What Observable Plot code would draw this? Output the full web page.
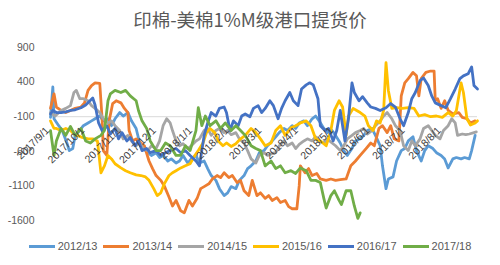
<!DOCTYPE html>
<html><head><meta charset="utf-8">
<script src="https://cdn.jsdelivr.net/npm/d3@7"></script>
<script src="https://cdn.jsdelivr.net/npm/@observablehq/plot@0.6"></script>
<style>
body{margin:0;background:#fff;font-family:"Liberation Sans",Arial,sans-serif;}
#wrap{width:500px;height:265px;overflow:hidden;}
#title{height:36px;box-sizing:border-box;padding-top:7px;text-align:center;font-size:18.5px;line-height:24px;color:#595959;font-family:"Noto Sans CJK SC",sans-serif;}
#legend{display:flex;justify-content:center;align-items:center;height:20px;font-size:11px;color:#595959;}
.item{display:flex;align-items:center;margin:0 3px;}
.sw{width:26px;height:3px;margin-right:3px;}
</style></head>
<body><div id="wrap"><div id="title">印棉-美棉1%M级港口提货价</div><div id="chart"></div><div id="legend"></div></div>
<script>
const seasons = ["2012/13","2013/14","2014/15","2015/16","2016/17","2017/18"];
const colors = ["#5B9BD5","#ED7D31","#A5A5A5","#FFC000","#4472C4","#70AD47"];
const yTicks = [900,400,-100,-600,-1100,-1600];
const xTickLabels = ["2017/9/1","2017/10/1","2017/11/1","2017/12/1","2018/1/1","2018/2/1","2018/3/1","2018/4/1","2018/5/1","2018/6/1","2018/7/1","2018/8/1"];
const axisCross = -100;
// [days since 9/1, value]
const s1213 = [[0,-110],[2,330],[3,-130],[7,-230],[10,-300],[14,-480],[16,-590],[19,-560],[21,-370],[25,-300],[28,-230],[32,-190],[35,-160],[38,-130],[42,-90],[45,-160],[49,-130],[52,-230],[55,-130],[59,-40],[62,-90],[66,-40],[69,-160],[73,-270],[76,-480],[79,-560],[83,-620],[86,-660],[90,-620],[93,-690],[96,-660],[100,-740],[103,-710],[107,-770],[110,-740],[113,-660],[117,-770],[120,-710],[124,-660],[127,-770],[131,-740],[134,-850],[137,-950],[141,-1020],[144,-1140],[148,-1240],[151,-1200],[154,-1110],[158,-1140],[161,-1020],[165,-950],[168,-850],[171,-810],[175,-740],[178,-620],[182,-590],[185,-520],[189,-450],[192,-390],[195,-330],[199,-270],[202,-300],[206,-230],[209,-270],[212,-190],[216,-160],[219,-230],[223,-130],[226,-90],[229,-160],[233,-270],[236,-330],[240,-300],[243,-370],[247,-480],[250,-590],[253,-660],[257,-560],[260,-450],[264,-420],[267,-370],[270,-300],[274,-270],[277,-370],[281,-520],[283,-810],[286,-1140],[288,-1000],[292,-970],[295,-740],[299,-590],[302,-560],[305,-450],[309,-390],[312,-590],[316,-740],[319,-590],[322,-520],[326,-560],[329,-620],[333,-660],[336,-710],[339,-840],[343,-710],[346,-690],[350,-710],[353,-690],[357,-710],[359,-590],[362,-370]];
const s1314 = [[0,20],[3,230],[5,40],[9,-10],[13,-40],[17,-10],[21,20],[26,40],[29,100],[32,280],[35,350],[38,390],[42,380],[44,-130],[45,-590],[48,-660],[50,-160],[53,90],[56,130],[60,100],[63,20],[66,-40],[67,-300],[70,-450],[73,-420],[77,-480],[80,-520],[84,-740],[87,-850],[90,-950],[94,-1020],[97,-1100],[101,-1260],[104,-1390],[107,-1310],[111,-1460],[114,-1490],[118,-1310],[121,-1390],[125,-1280],[128,-1140],[131,-1110],[135,-1070],[138,-1000],[142,-950],[145,-980],[148,-910],[152,-980],[155,-950],[159,-1050],[162,-1020],[165,-1170],[169,-1240],[172,-1020],[176,-1240],[179,-1200],[183,-1280],[186,-1240],[189,-1310],[193,-1270],[196,-1340],[200,-1310],[203,-1400],[206,-1430],[210,-1430],[212,-1100],[213,-810],[217,-910],[220,-850],[223,-950],[227,-920],[230,-1000],[235,-1020],[239,-1000],[243,-1020],[247,-1010],[252,-1000],[256,-810],[260,-740],[264,-660],[269,-560],[273,-480],[276,-520],[280,-270],[283,-230],[287,-330],[290,-230],[293,-420],[297,-450],[299,200],[302,390],[305,450],[309,540],[312,490],[314,200],[316,450],[320,540],[324,560],[327,560],[328,130],[330,160],[333,20],[336,130],[339,-10],[343,-60],[348,-40],[351,-110],[355,-130],[358,-190],[362,-160]];
const s1415 = [[0,-40],[4,-90],[9,-10],[13,20],[17,60],[20,250],[22,280],[25,160],[28,160],[32,130],[35,60],[38,20],[42,-40],[45,-130],[49,-190],[52,-160],[55,-230],[59,-300],[62,-420],[66,-370],[69,-450],[73,-520],[76,-480],[79,-560],[83,-590],[86,-520],[90,-560],[93,-450],[96,-230],[99,-130],[102,-190],[104,-300],[107,-450],[110,-520],[113,-490],[117,-560],[120,-520],[124,-450],[127,-420],[131,-300],[134,-270],[137,-370],[141,-300],[144,-270],[148,-330],[151,-300],[154,-360],[158,-330],[161,-420],[165,-480],[168,-590],[171,-710],[175,-770],[178,-660],[182,-620],[185,-660],[189,-630],[192,-620],[195,-520],[199,-450],[202,-520],[206,-480],[209,-560],[212,-500],[216,-450],[219,-420],[223,-450],[226,-390],[229,-450],[233,-480],[236,-420],[240,-480],[243,-520],[247,-590],[250,-520],[253,-420],[257,-370],[260,-330],[264,-300],[267,-270],[270,-350],[274,-300],[277,-230],[281,-160],[284,-90],[287,-40],[291,-130],[294,-230],[298,-300],[301,-520],[305,-590],[308,-450],[311,-520],[315,-420],[318,-270],[322,-230],[325,-300],[328,-370],[332,-420],[335,-300],[339,-230],[342,-130],[345,-190],[347,-370],[351,-350],[354,-360],[357,-350],[361,-330],[363,-320]];
const s1516 = [[0,-160],[3,-270],[5,-270],[9,-300],[13,-270],[17,-300],[20,-350],[23,-370],[27,-400],[32,-420],[36,-420],[40,-450],[43,-910],[46,-810],[49,-660],[52,-710],[55,-780],[60,-840],[64,-880],[68,-910],[73,-940],[77,-950],[81,-970],[84,-1020],[88,-1140],[91,-1240],[94,-1200],[97,-1070],[101,-950],[104,-910],[107,-880],[111,-840],[115,-810],[119,-780],[123,-660],[126,-590],[130,-480],[133,-330],[136,-270],[140,-330],[143,-450],[147,-520],[150,-480],[154,-530],[158,-490],[162,-420],[166,-370],[171,-270],[175,-330],[179,-420],[183,-520],[188,-480],[192,-300],[196,-230],[200,-370],[205,-260],[209,-230],[213,-190],[218,-160],[222,-230],[226,-420],[230,-450],[235,-520],[239,-300],[242,-10],[246,130],[249,40],[252,-370],[254,-90],[258,20],[261,-10],[264,-40],[268,-90],[271,-230],[275,-300],[278,-160],[281,-190],[284,-10],[286,680],[288,280],[291,20],[295,30],[300,20],[305,30],[310,20],[314,-90],[319,-70],[324,-100],[329,-90],[334,-110],[339,-40],[343,-90],[346,-10],[350,390],[352,250],[355,-130],[358,-220],[362,-190],[364,-160]];
const s1617 = [[0,-60],[2,-10],[5,-40],[9,-40],[13,-30],[17,-10],[21,0],[26,30],[30,70],[33,120],[36,170],[38,70],[41,-190],[44,-300],[48,-230],[51,-350],[55,-270],[58,-420],[61,-330],[65,-450],[68,-400],[72,-520],[75,-450],[78,-590],[82,-560],[85,-620],[90,-590],[94,-660],[98,-620],[102,-590],[107,-560],[111,-620],[115,-590],[119,-660],[124,-740],[127,-810],[131,-370],[134,-190],[137,-40],[141,-90],[144,20],[148,40],[150,-40],[153,-300],[156,-160],[160,-230],[163,-90],[166,-60],[170,-100],[173,20],[177,60],[180,-40],[183,20],[187,130],[190,60],[194,-130],[197,20],[200,130],[204,250],[207,130],[211,60],[214,300],[218,360],[221,390],[224,360],[228,160],[230,-230],[234,-300],[237,-270],[241,-450],[244,-300],[247,-10],[251,-450],[254,-130],[257,390],[259,250],[263,130],[266,190],[270,100],[273,40],[277,20],[281,-10],[286,30],[290,90],[294,40],[298,-130],[301,-230],[305,-40],[308,160],[311,250],[315,420],[318,460],[322,350],[325,200],[328,100],[333,60],[337,30],[341,160],[345,300],[349,450],[352,490],[356,520],[359,620],[361,350],[364,300]];
const s1718 = [[0,-300],[3,-660],[5,-450],[9,-270],[13,-370],[17,-240],[21,-370],[26,-270],[30,-450],[34,-480],[38,-420],[43,-370],[46,-300],[49,130],[51,230],[55,280],[60,250],[64,280],[68,200],[73,130],[75,-10],[78,-160],[82,-270],[85,-450],[90,-590],[94,-590],[98,-480],[102,-520],[107,-660],[111,-660],[115,-520],[119,-590],[124,-300],[126,30],[129,-230],[132,-90],[136,-230],[141,-160],[145,-270],[149,-190],[154,-300],[158,-230],[162,-300],[166,-370],[171,-520],[175,-560],[179,-590],[183,-810],[188,-740],[192,-850],[196,-810],[200,-910],[205,-880],[209,-920],[213,-840],[218,-880],[222,-1020],[226,-1020],[230,-1050],[233,-1280],[235,-1420],[239,-1240],[242,-1170],[246,-1310],[248,-1370],[252,-1170],[256,-1170],[259,-1390],[262,-1570],[264,-1490]];
const seriesData = [s1213, s1314, s1415, s1516, s1617, s1718];

const start = new Date(Date.UTC(2017, 8, 1));
const end = new Date(Date.UTC(2018, 7, 31));
const rows = [];
seriesData.forEach((arr, i) => arr.forEach(([d, v]) => rows.push({season: seasons[i], date: d3.utcDay.offset(start, d), value: v})));
const ticks = xTickLabels.map(s => { const [y, m, d] = s.split("/").map(Number); return {date: new Date(Date.UTC(y, m - 1, d)), label: s}; });

const chart = Plot.plot({
  width: 500, height: 200,
  marginLeft: 50, marginRight: 23, marginTop: 11, marginBottom: 16,
  style: {fontFamily: "'Liberation Sans', Arial, sans-serif", fontSize: "10.5px", color: "#595959", background: "#fff"},
  x: {type: "utc", domain: [start, end], axis: null},
  y: {domain: [-1600, 900], ticks: yTicks, tickFormat: d => String(d), tickSize: 0, tickPadding: 16, label: null},
  color: {domain: seasons, range: colors},
  marks: [
    Plot.ruleY([axisCross], {stroke: "#d9d9d9", strokeWidth: 1}),
    Plot.lineY(rows, {x: "date", y: "value", z: "season", stroke: "season", strokeWidth: 2.8, strokeLinejoin: "round"}),
    Plot.text(ticks, {x: "date", y: () => axisCross, text: "label", rotate: -45, textAnchor: "end", dx: -3, dy: 12, fontSize: 10.5, fill: "#404040"})
  ]
});
document.getElementById("chart").appendChild(chart);

const lg = document.getElementById("legend");
seasons.forEach((s, i) => {
  const it = document.createElement("div"); it.className = "item";
  const sw = document.createElement("div"); sw.className = "sw"; sw.style.background = colors[i];
  const t = document.createElement("span"); t.textContent = s;
  it.appendChild(sw); it.appendChild(t); lg.appendChild(it);
});
</script></body></html>
